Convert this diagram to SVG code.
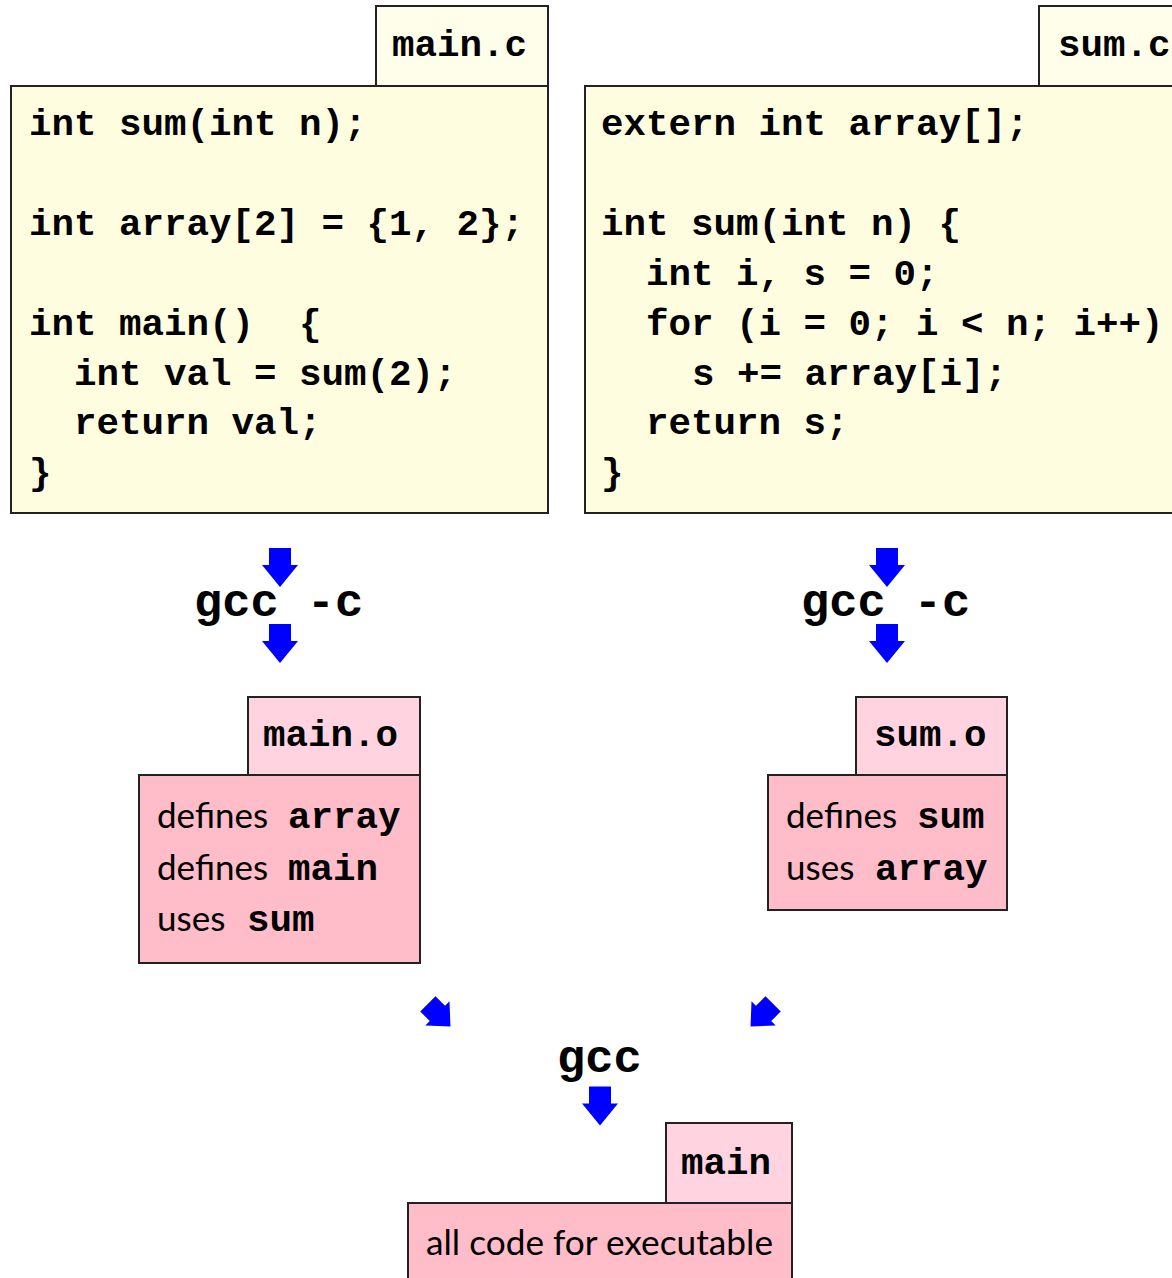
<svg xmlns="http://www.w3.org/2000/svg" width="1172" height="1278" viewBox="0 0 1172 1278" xml:space="preserve">
<style>
.code{font-family:"Liberation Mono","Courier New",monospace;font-weight:bold;font-size:37.5px;fill:#000;white-space:pre}
.cmd{font-family:"Liberation Mono","Courier New",monospace;font-weight:bold;font-size:47px;fill:#000;white-space:pre}
.sans{font-family:Lato,"Open Sans",sans-serif;font-size:35px;fill:#000}
.ybox{fill:#FFFDE0;stroke:#222;stroke-width:2}
.ytab{fill:#FFFEEA;stroke:#222;stroke-width:2}
.pbox{fill:#FFBCC9;stroke:#222;stroke-width:2}
.ptab{fill:#FFD4E0;stroke:#222;stroke-width:2}
.arr{fill:#0000FF}
</style>
<defs>
<path id="down" d="M-11,-19.5 H11 V-2.5 H18 L0,19.5 L-18,-2.5 H-11 Z"/>
<path id="diag" d="M-12,-17.5 H12 V-2.5 H19 L0,18 L-19,-2.5 H-12 Z"/>
</defs>
<g id="main_c">
<rect class="ytab" x="376" y="6" width="172" height="80"/>
<rect class="ybox" x="11" y="86" width="537" height="427"/>
<text class="code" x="392" y="56">main.c</text>
<text class="code" x="29" y="135">int sum(int n);</text>
<text class="code" x="29" y="235">int array[2] = {1, 2};</text>
<text class="code" x="29" y="335">int main()  {</text>
<text class="code" x="74" y="385">int val = sum(2);</text>
<text class="code" x="74" y="434">return val;</text>
<text class="code" x="29" y="484">}</text>
</g>
<g id="sum_c">
<rect class="ytab" x="1039" y="6" width="140" height="80"/>
<rect class="ybox" x="585" y="86" width="600" height="427"/>
<text class="code" x="1058" y="56">sum.c</text>
<text class="code" x="601" y="135">extern int array[];</text>
<text class="code" x="601" y="235">int sum(int n) {</text>
<text class="code" x="646" y="285">int i, s = 0;</text>
<text class="code" x="646" y="335">for (i = 0; i &lt; n; i++)</text>
<text class="code" x="692" y="385">s += array[i];</text>
<text class="code" x="646" y="434">return s;</text>
<text class="code" x="601" y="484">}</text>
</g>
<g id="main_o">
<rect class="ptab" x="248" y="697" width="172" height="78"/>
<rect class="pbox" x="139" y="775" width="281" height="188"/>
<text class="code" x="263" y="746">main.o</text>
<text class="sans" x="157" y="828">defines</text>
<text class="code" x="288" y="828">array</text>
<text class="sans" x="157" y="880">defines</text>
<text class="code" x="288" y="880">main</text>
<text class="sans" x="157" y="931">uses</text>
<text class="code" x="247" y="931">sum</text>
</g>
<g id="sum_o">
<rect class="ptab" x="856" y="697" width="151" height="78"/>
<rect class="pbox" x="768" y="775" width="239" height="135"/>
<text class="code" x="874" y="746">sum.o</text>
<text class="sans" x="786" y="828">defines</text>
<text class="code" x="917" y="828">sum</text>
<text class="sans" x="786" y="880">uses</text>
<text class="code" x="875" y="880">array</text>
</g>
<g id="main_exe">
<rect class="ptab" x="666" y="1123" width="126" height="80"/>
<rect class="pbox" x="408" y="1203" width="384" height="90"/>
<text class="code" x="681" y="1174">main</text>
<text class="sans" x="426" y="1255" textLength="347" lengthAdjust="spacingAndGlyphs">all code for executable</text>
</g>
<g id="connectors">
<use href="#down" class="arr" transform="translate(280,567.5)"/>
<use href="#down" class="arr" transform="translate(280,643.5)"/>
<use href="#down" class="arr" transform="translate(887,567.5)"/>
<use href="#down" class="arr" transform="translate(887,643.5)"/>
<use href="#diag" class="arr" transform="translate(439,1015) rotate(-45) scale(0.9)"/>
<use href="#diag" class="arr" transform="translate(762,1015) rotate(45) scale(0.9)"/>
<use href="#down" class="arr" transform="translate(600,1106)"/>
<text class="cmd" x="194" y="616">gcc -c</text>
<text class="cmd" x="801" y="616">gcc -c</text>
<text class="cmd" x="557" y="1072">gcc</text>
</g>
</svg>
